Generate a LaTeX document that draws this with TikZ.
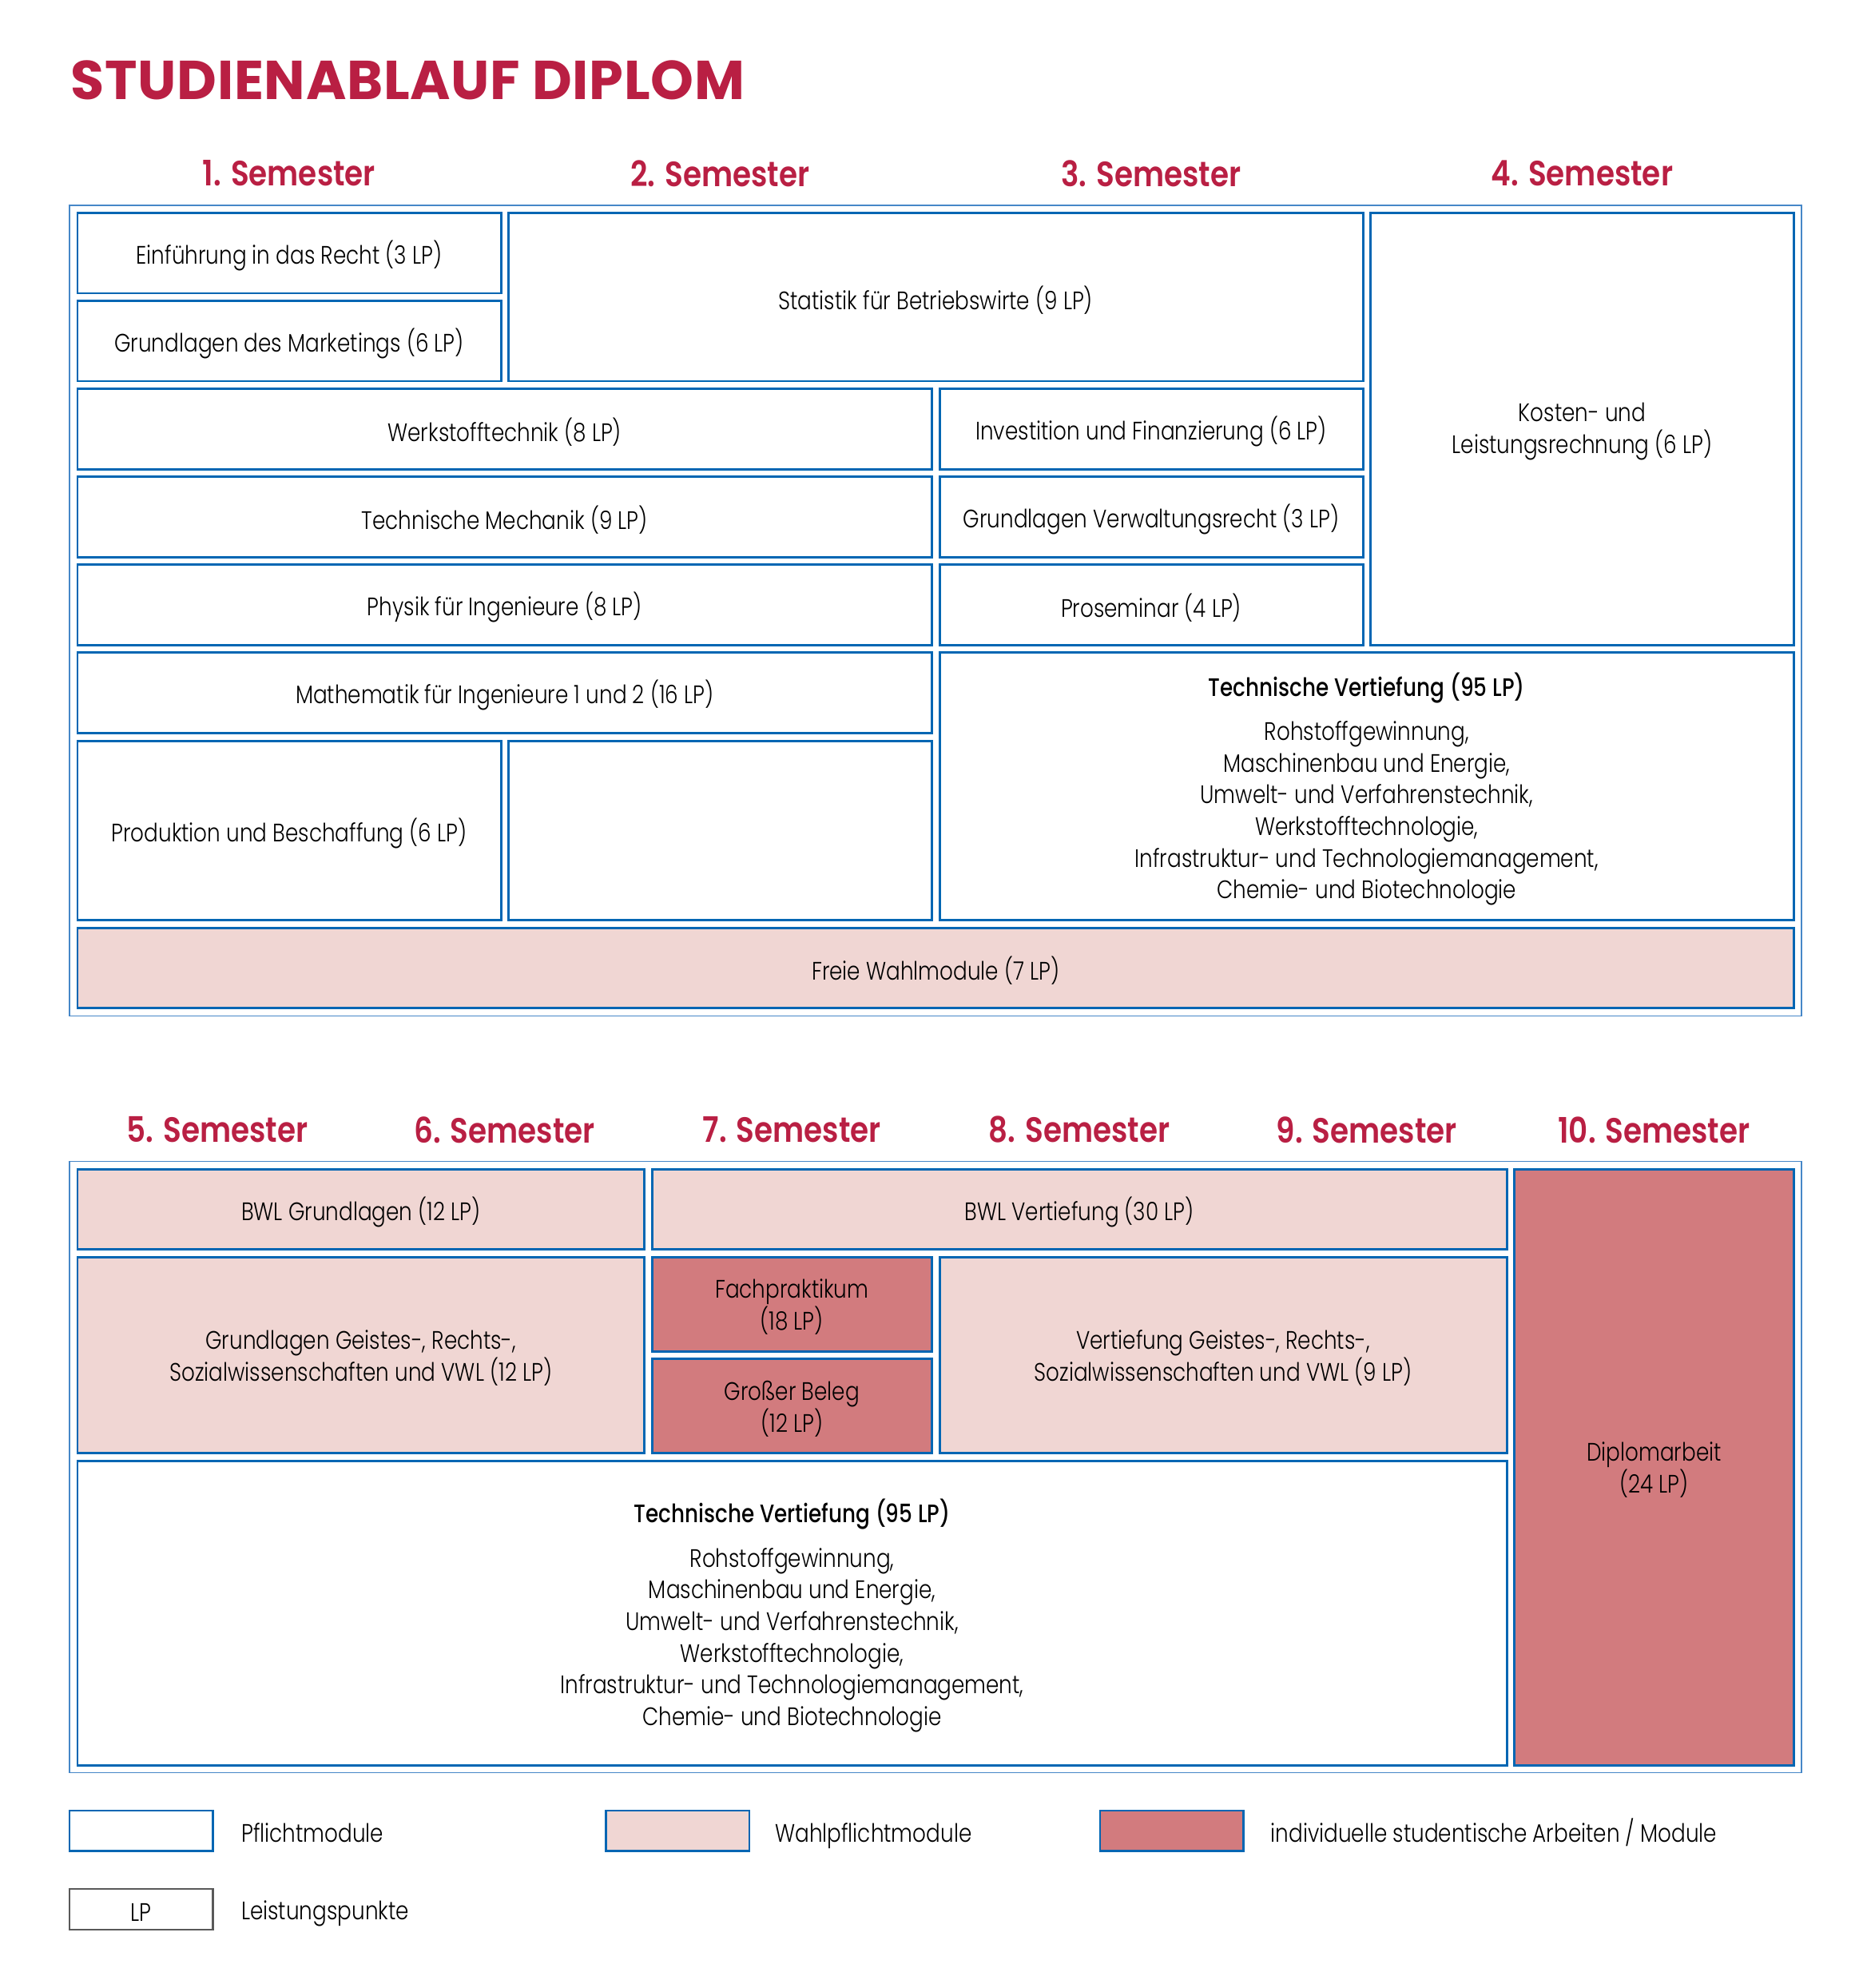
\documentclass[tikz,border=0pt]{standalone}
\usepackage{fontspec}
\setmainfont[FakeStretch=0.83, BoldFont=Poppins Medium]{Poppins Light}
\newfontfamily\titlefont[LetterSpace=1]{Poppins Bold}
\newfontfamily\semfont[FakeStretch=0.85]{Poppins SemiBold}
\definecolor{tured}{RGB}{185,31,67}
\definecolor{boxblue}{RGB}{0,102,179}
\definecolor{framebl}{RGB}{70,135,200}
\definecolor{wahlpink}{RGB}{240,214,211}
\definecolor{indivrot}{RGB}{210,123,126}
\tikzset{
  modul/.style={draw=boxblue, line width=0.85pt},
  pflicht/.style={modul, fill=white},
  wahl/.style={modul, fill=wahlpink},
  indiv/.style={modul, fill=indivrot},
  rahmen/.style={draw=framebl, line width=0.55pt},
  modtext/.style={font=\fontsize{9}{11.3}\selectfont, align=center, yshift=-1pt},
  legtext/.style={modtext, inner sep=0pt, anchor=base west},
  semhead/.style={font=\semfont\fontsize{12.5}{15}\selectfont, text=tured},
}
\begin{document}
\begin{tikzpicture}
\useasboundingbox (0,0) rectangle (23.31,-24.88);
% Titel
\node[anchor=west, inner sep=0pt, font=\titlefont\fontsize{19.5}{23}\selectfont, text=tured] (titel) at (0.88,-1.00) {STUDIENABLAUF DIPLOM};
% Semester 1 bis 4
\foreach \n/\x in {1/3.62, 2/9.015, 3/14.41, 4/19.805}
  \node[semhead] (sem\n) at (\x,-2.17) {\n. Semester};
\draw[rahmen] (0.87,-2.57) rectangle (22.55,-12.715);
\draw[pflicht] (0.97,-2.665) rectangle (6.27,-3.67) node[midway,modtext] (einf) {Einführung in das Recht (3 LP)};
\draw[pflicht] (0.97,-3.765) rectangle (6.27,-4.77) node[midway,modtext] (mark) {Grundlagen des Marketings (6 LP)};
\draw[pflicht] (6.365,-2.665) rectangle (17.06,-4.77) node[midway,modtext] (stat) {Statistik für Betriebswirte (9 LP)};
\draw[pflicht] (17.155,-2.665) rectangle (22.455,-8.07) node[midway,modtext] (kosten) {Kosten- und\\Leistungsrechnung (6 LP)};
\draw[pflicht] (0.97,-4.865) rectangle (11.665,-5.87) node[midway,modtext] (werk) {Werkstofftechnik (8 LP)};
\draw[pflicht] (11.76,-4.865) rectangle (17.06,-5.87) node[midway,modtext] (invest) {Investition und Finanzierung (6 LP)};
\draw[pflicht] (0.97,-5.965) rectangle (11.665,-6.97) node[midway,modtext] (mech) {Technische Mechanik (9 LP)};
\draw[pflicht] (11.76,-5.965) rectangle (17.06,-6.97) node[midway,modtext] (verw) {Grundlagen Verwaltungsrecht (3 LP)};
\draw[pflicht] (0.97,-7.065) rectangle (11.665,-8.07) node[midway,modtext] (physik) {Physik für Ingenieure (8 LP)};
\draw[pflicht] (11.76,-7.065) rectangle (17.06,-8.07) node[midway,modtext] (prosem) {Proseminar (4 LP)};
\draw[pflicht] (0.97,-8.165) rectangle (11.665,-9.17) node[midway,modtext] (mathe) {Mathematik für Ingenieure 1 und 2 (16 LP)};
\draw[pflicht] (11.76,-8.165) rectangle (22.455,-11.515) node[midway,modtext] (techA) {\textbf{Technische Vertiefung (95 LP)}\\[4.4pt]
  Rohstoffgewinnung,\\Maschinenbau und Energie,\\Umwelt- und Verfahrenstechnik,\\Werkstofftechnologie,\\Infrastruktur- und Technologiemanagement,\\Chemie- und Biotechnologie};
\draw[pflicht] (0.97,-9.27) rectangle (6.27,-11.515) node[midway,modtext] (prod) {Produktion und Beschaffung (6 LP)};
\draw[pflicht] (6.365,-9.27) rectangle (11.665,-11.515) node[midway] (leer) {};
\draw[wahl] (0.97,-11.61) rectangle (22.455,-12.615) node[midway,modtext] (frei) {Freie Wahlmodule (7 LP)};
% Semester 5 bis 10
\foreach \n/\x in {5/2.72, 6/6.315, 7/9.9125, 8/13.51, 9/17.1075, 10/20.705}
  \node[semhead] (sem\n) at (\x,-14.14) {\n. Semester};
\draw[rahmen] (0.87,-14.535) rectangle (22.55,-22.185);
\draw[wahl] (0.97,-14.63) rectangle (8.065,-15.635) node[midway,modtext] (bwlg) {BWL Grundlagen (12 LP)};
\draw[wahl] (8.16,-14.63) rectangle (18.86,-15.635) node[midway,modtext] (bwlv) {BWL Vertiefung (30 LP)};
\draw[indiv] (18.955,-14.63) rectangle (22.455,-22.095) node[midway,modtext] (diplom) {Diplomarbeit\\(24 LP)};
\draw[wahl] (0.97,-15.73) rectangle (8.065,-18.185) node[midway,modtext] (geistg) {Grundlagen Geistes-, Rechts-,\\Sozialwissenschaften und VWL (12 LP)};
\draw[indiv] (8.16,-15.73) rectangle (11.665,-16.91) node[midway,modtext] (fachpr) {Fachpraktikum\\(18 LP)};
\draw[indiv] (8.16,-17.005) rectangle (11.665,-18.185) node[midway,modtext] (beleg) {Großer Beleg\\(12 LP)};
\draw[wahl] (11.76,-15.73) rectangle (18.86,-18.185) node[midway,modtext] (geistv) {Vertiefung Geistes-, Rechts-,\\Sozialwissenschaften und VWL (9 LP)};
\draw[pflicht] (0.97,-18.28) rectangle (18.86,-22.095) node[midway,modtext] (techB) {\textbf{Technische Vertiefung (95 LP)}\\[4.4pt]
  Rohstoffgewinnung,\\Maschinenbau und Energie,\\Umwelt- und Verfahrenstechnik,\\Werkstofftechnologie,\\Infrastruktur- und Technologiemanagement,\\Chemie- und Biotechnologie};
% Legende
\draw[pflicht, line width=0.6pt] (0.87,-22.66) rectangle (2.665,-23.165);
\node[legtext] (legpf) at (3.015,-23.02) {Pflichtmodule};
\draw[wahl, line width=0.6pt] (7.585,-22.66) rectangle (9.38,-23.165);
\node[legtext] (legwp) at (9.695,-23.02) {Wahlpflichtmodule};
\draw[indiv, line width=0.6pt] (13.77,-22.66) rectangle (15.565,-23.165);
\node[legtext] (legin) at (15.9,-23.02) {individuelle studentische Arbeiten / Module};
\draw[draw=black!65, line width=0.6pt] (0.87,-23.64) rectangle (2.665,-24.15) node[midway,modtext] (leglp) {LP};
\node[legtext] (leglpt) at (3.015,-23.99) {Leistungspunkte};
\end{tikzpicture}
\end{document}
